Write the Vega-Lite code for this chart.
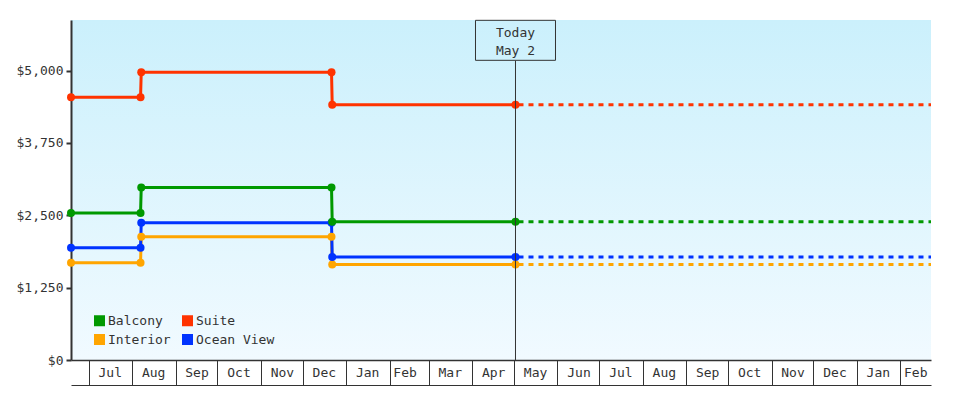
{
  "$schema": "https://vega.github.io/schema/vega-lite/v6.json",
  "width": 860,
  "height": 340,
  "autosize": "none",
  "padding": {"left": 71, "top": 20, "right": 49, "bottom": 40},
  "background": "white",
  "config": {
    "view": {
      "stroke": null,
      "fill": {
        "gradient": "linear",
        "x1": 0, "y1": 0, "x2": 0, "y2": 1,
        "stops": [
          {"offset": 0, "color": "#cbf0fc"},
          {"offset": 1, "color": "#f1faff"}
        ]
      }
    },
    "font": "DejaVu Sans Mono",
    "axis": {
      "labelFont": "DejaVu Sans Mono",
      "labelFontSize": 13,
      "labelColor": "#333333",
      "domainColor": "#333333",
      "tickColor": "#333333"
    }
  },
  "datasets": {
    "prices": [
      {"series": "Interior", "date": "2022-06-18T07:00:00", "price": 1680, "kind": "actual"},
      {"series": "Interior", "date": "2022-08-07T00:00:00", "price": 1680, "kind": "actual"},
      {"series": "Interior", "date": "2022-08-07T12:00:00", "price": 2130, "kind": "actual"},
      {"series": "Interior", "date": "2022-12-21T12:00:00", "price": 2130, "kind": "actual"},
      {"series": "Interior", "date": "2022-12-22T00:00:00", "price": 1650, "kind": "actual"},
      {"series": "Interior", "date": "2023-05-02T00:00:00", "price": 1650, "kind": "actual"},
      {"series": "Interior", "date": "2023-05-02T00:00:00", "price": 1650, "kind": "forecast"},
      {"series": "Interior", "date": "2024-02-23T00:00:00", "price": 1650, "kind": "forecast"},

      {"series": "Ocean View", "date": "2022-06-18T07:00:00", "price": 1940, "kind": "actual"},
      {"series": "Ocean View", "date": "2022-08-07T00:00:00", "price": 1940, "kind": "actual"},
      {"series": "Ocean View", "date": "2022-08-07T12:00:00", "price": 2370, "kind": "actual"},
      {"series": "Ocean View", "date": "2022-12-21T12:00:00", "price": 2370, "kind": "actual"},
      {"series": "Ocean View", "date": "2022-12-22T00:00:00", "price": 1780, "kind": "actual"},
      {"series": "Ocean View", "date": "2023-05-02T00:00:00", "price": 1780, "kind": "actual"},
      {"series": "Ocean View", "date": "2023-05-02T00:00:00", "price": 1780, "kind": "forecast"},
      {"series": "Ocean View", "date": "2024-02-23T00:00:00", "price": 1780, "kind": "forecast"},

      {"series": "Balcony", "date": "2022-06-18T07:00:00", "price": 2540, "kind": "actual"},
      {"series": "Balcony", "date": "2022-08-07T00:00:00", "price": 2540, "kind": "actual"},
      {"series": "Balcony", "date": "2022-08-07T12:00:00", "price": 2980, "kind": "actual"},
      {"series": "Balcony", "date": "2022-12-21T12:00:00", "price": 2980, "kind": "actual"},
      {"series": "Balcony", "date": "2022-12-22T00:00:00", "price": 2390, "kind": "actual"},
      {"series": "Balcony", "date": "2023-05-02T00:00:00", "price": 2390, "kind": "actual"},
      {"series": "Balcony", "date": "2023-05-02T00:00:00", "price": 2390, "kind": "forecast"},
      {"series": "Balcony", "date": "2024-02-23T00:00:00", "price": 2390, "kind": "forecast"},

      {"series": "Suite", "date": "2022-06-18T07:00:00", "price": 4540, "kind": "actual"},
      {"series": "Suite", "date": "2022-08-07T00:00:00", "price": 4540, "kind": "actual"},
      {"series": "Suite", "date": "2022-08-07T12:00:00", "price": 4970, "kind": "actual"},
      {"series": "Suite", "date": "2022-12-21T12:00:00", "price": 4970, "kind": "actual"},
      {"series": "Suite", "date": "2022-12-22T00:00:00", "price": 4410, "kind": "actual"},
      {"series": "Suite", "date": "2023-05-02T00:00:00", "price": 4410, "kind": "actual"},
      {"series": "Suite", "date": "2023-05-02T00:00:00", "price": 4410, "kind": "forecast"},
      {"series": "Suite", "date": "2024-02-23T00:00:00", "price": 4410, "kind": "forecast"}
    ]
  },
  "encoding": {
    "x": {
      "field": "date",
      "type": "temporal",
      "scale": {
        "domain": [
          {"year": 2022, "month": 6, "date": 18, "hours": 7},
          {"year": 2024, "month": 2, "date": 23}
        ],
        "nice": false
      },
      "axis": {
        "title": null,
        "format": "%b",
        "tickCount": {"interval": "month", "step": 1},
        "offset": 25,
        "tickSize": -25,
        "tickWidth": 1,
        "domainWidth": 1,
        "labelPadding": 12,
        "labelBaseline": "middle",
        "labelAlign": "center",
        "labelOffset": {"condition": {"test": "month(datum.value) === 1", "value": 15}, "value": 21},
        "labelFlush": false,
        "labelOverlap": false,
        "labelBound": false,
        "grid": false
      }
    }
  },
  "layer": [
    {
      "data": {"name": "prices"},
      "transform": [{"filter": "datum.kind === 'actual'"}],
      "mark": {"type": "line", "strokeWidth": 3},
      "encoding": {
        "y": {
          "field": "price",
          "type": "quantitative",
          "scale": {"domain": [0, 5874], "nice": false},
          "axis": {
            "title": null,
            "values": [0, 1250, 2500, 3750, 5000],
            "format": "$,.0f",
            "tickSize": 5,
            "tickWidth": 2,
            "domainWidth": 2,
            "labelPadding": 3,
            "grid": true,
            "gridColor": "#333333",
            "gridWidth": 1.5,
            "gridOpacity": {"condition": {"test": "datum.value === 0", "value": 1}, "value": 0}
          }
        },
        "color": {
          "field": "series",
          "type": "nominal",
          "scale": {
            "domain": ["Balcony", "Suite", "Interior", "Ocean View"],
            "range": ["#009900", "#ff3300", "#ffa500", "#0033ff"]
          },
          "legend": {
            "title": null,
            "orient": "none",
            "legendX": 22,
            "legendY": 294,
            "columns": 2,
            "direction": "horizontal",
            "symbolType": "square",
            "symbolSize": 121,
            "symbolStrokeWidth": 0,
            "columnPadding": 10,
            "rowPadding": 5,
            "labelFont": "DejaVu Sans Mono",
            "labelFontSize": 13,
            "labelColor": "#333333",
            "labelOffset": 2,
            "padding": 0,
            "encode": {
              "symbols": {
                "update": {
                  "fill": {"scale": "color", "field": "value"},
                  "fillOpacity": {"value": 1},
                  "strokeWidth": {"value": 0}
                }
              }
            }
          }
        }
      }
    },
    {
      "data": {"name": "prices"},
      "transform": [{"filter": "datum.kind === 'forecast'"}],
      "mark": {"type": "line", "strokeWidth": 3, "strokeDash": [5, 5], "strokeDashOffset": -3},
      "encoding": {
        "y": {"field": "price", "type": "quantitative"},
        "color": {"field": "series", "type": "nominal"}
      }
    },
    {
      "data": {"name": "prices"},
      "transform": [{"filter": "datum.kind === 'actual'"}],
      "mark": {"type": "point", "shape": "circle", "filled": true, "size": 64, "opacity": 1},
      "encoding": {
        "y": {"field": "price", "type": "quantitative"},
        "color": {"field": "series", "type": "nominal"}
      }
    },
    {
      "data": {"values": [{"date": "2023-05-02T00:00:00", "label": "Today\nMay 2"}]},
      "mark": {"type": "rule", "color": "#333333", "strokeWidth": 1},
      "encoding": {
        "y": {"datum": 0, "type": "quantitative"},
        "y2": {"datum": 5171}
      }
    },
    {
      "data": {"values": [{"date": "2023-05-02T00:00:00", "label": "Today\nMay 2"}]},
      "mark": {
        "type": "point",
        "shape": "M-1,-0.5H1V0.5H-1Z",
        "size": 6400,
        "filled": false,
        "stroke": "#333333",
        "strokeWidth": 1,
        "opacity": 1
      },
      "encoding": {
        "y": {"datum": 5523, "type": "quantitative"}
      }
    },
    {
      "data": {"values": [{"date": "2023-05-02T00:00:00", "label": "Today\nMay 2"}]},
      "mark": {
        "type": "text",
        "font": "DejaVu Sans Mono",
        "fontSize": 13,
        "color": "#333333",
        "lineBreak": "\n",
        "lineHeight": 18,
        "align": "center",
        "baseline": "middle"
      },
      "encoding": {
        "text": {"field": "label"},
        "y": {"datum": 5655, "type": "quantitative"}
      }
    }
  ]
}
